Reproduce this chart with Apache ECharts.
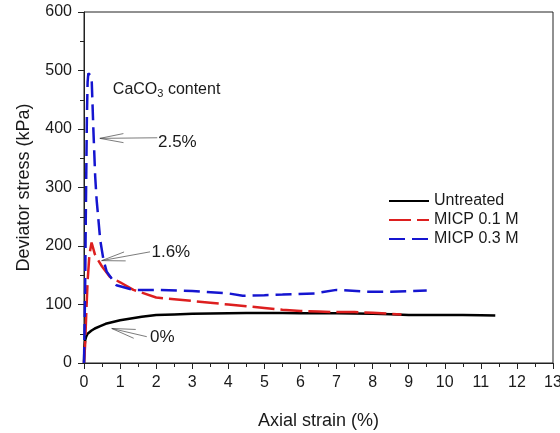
<!DOCTYPE html>
<html>
<head>
<meta charset="utf-8">
<script src="https://cdn.jsdelivr.net/npm/echarts@6/dist/echarts.min.js"></script>
<style>
  html, body { margin: 0; padding: 0; background: #fff; }
  #chart { width: 560px; height: 433px; }
</style>
</head>
<body>
<div id="chart"></div>
<script>
// axial strain (%) and deviator stress (kPa)
const untreatedStrain = [0, 0.01, 0.03, 0.06, 0.1, 0.2, 0.3, 0.45, 0.6, 0.8, 1, 1.3, 1.6, 2, 2.5, 3, 3.5, 4, 4.5, 5, 5.5, 6, 6.5, 7, 7.5, 8, 8.5, 9, 9.5, 10, 10.5, 11, 11.4];
const untreatedStress = [0, 25, 38, 45, 50, 55, 59, 63, 67, 70, 73, 76, 79, 82, 83, 84, 84.5, 85, 85.5, 85.5, 85.5, 85, 85, 85, 84.5, 84, 83.5, 82, 82, 82, 82, 81.5, 81];

const micp01Strain = [0, 0.03, 0.06, 0.1, 0.15, 0.21, 0.3, 0.39, 0.5, 0.72, 1, 1.37, 2, 2.5, 3, 3.5, 4, 4.5, 5, 5.5, 6, 6.5, 7, 7.5, 8, 8.5, 8.8];
const micp01Stress = [0, 30, 80, 140, 185, 206, 186, 176, 165, 147, 138, 125, 112, 109, 106, 103, 100, 97, 94, 91, 89, 88, 87, 87, 86, 84, 83];

const micp03Strain = [0, 0.03, 0.05, 0.08, 0.1, 0.12, 0.21, 0.26, 0.31, 0.35, 0.45, 0.54, 0.63, 0.9, 1.37, 2, 3, 4, 4.4, 5, 5.5, 6.4, 7, 7.8, 8.5, 9.5];
const micp03Stress = [0, 120, 250, 420, 480, 495, 490, 399, 319, 279, 210, 176, 156, 133, 125, 125, 123, 119, 115, 116, 117, 119, 125, 122, 122, 124];

// annotation arrows: tip (x, y) and tail (x, y) in data units, with label
const arrowTip  = [[0.44, 384], [0.49, 175], [0.77, 59]];
const arrowTail = [[2.03, 385], [1.83, 190], [1.74, 45]];
const arrowText = ['2.5%', '1.6%', '0%'];
const arrowTextPos = [[2.05, 378], [1.87, 190], [1.83, 44]];
const noteText = 'CaCO{sub|3} content';
const notePos = [0.8, 467];

const xTicks = [0, 13, 1];
const yTicks = [0, 600, 100];

function zip(a, b) { return a.map((v, i) => [v, b[i]]); }

const FONT = '"Liberation Sans", Arial, sans-serif';
const TXT = '#1a1a1a';

const chart = echarts.init(document.getElementById('chart'));

const annotData = arrowTip.map((t, i) => [t[0], t[1], arrowTail[i][0], arrowTail[i][1], arrowTextPos[i][0], arrowTextPos[i][1]]);

const option = {
  animation: false,
  backgroundColor: '#fff',
  grid: {
    left: 84, right: 7, top: 12, bottom: 70,
    outerBoundsMode: 'none',
    show: true, borderColor: '#222', borderWidth: 1
  },
  legend: {
    orient: 'vertical',
    left: 383, top: 188,
    itemWidth: 40, itemHeight: 12, itemGap: 3,
    itemStyle: { opacity: 0, borderWidth: 0 },
    textStyle: { fontFamily: FONT, fontSize: 16, color: TXT },
    data: ['Untreated', 'MICP 0.1 M', 'MICP 0.3 M']
  },
  xAxis: {
    type: 'value',
    min: xTicks[0], max: xTicks[1], interval: xTicks[2],
    name: 'Axial strain (%)',
    nameLocation: 'middle', nameGap: 49,
    nameTextStyle: { fontFamily: FONT, fontSize: 18, color: TXT },
    axisLine: { show: true, lineStyle: { color: '#222', width: 1 } },
    axisTick: { show: true, inside: false, length: 6, lineStyle: { color: '#222' } },
    minorTick: { show: true, splitNumber: 2, length: 4, lineStyle: { color: '#222' } },
    axisLabel: { fontFamily: FONT, fontSize: 16, color: TXT, margin: 12 },
    splitLine: { show: false }
  },
  yAxis: {
    type: 'value',
    min: yTicks[0], max: yTicks[1], interval: yTicks[2],
    name: 'Deviator stress (kPa)',
    nameLocation: 'middle', nameGap: 51,
    nameTextStyle: { fontFamily: FONT, fontSize: 18, color: TXT },
    axisLine: { show: true, lineStyle: { color: '#222', width: 1 } },
    axisTick: { show: true, inside: false, length: 6, lineStyle: { color: '#222' } },
    minorTick: { show: true, splitNumber: 2, length: 4, lineStyle: { color: '#222' } },
    axisLabel: { fontFamily: FONT, fontSize: 16, color: TXT, margin: 12 },
    splitLine: { show: false }
  },
  series: [
    {
      name: 'Untreated', type: 'line', symbol: 'none', z: 3,
      data: zip(untreatedStrain, untreatedStress),
      itemStyle: { color: '#000' },
      lineStyle: { color: '#000', width: 2.5 }
    },
    {
      name: 'MICP 0.1 M', type: 'line', symbol: 'none', z: 4,
      data: zip(micp01Strain, micp01Stress),
      itemStyle: { color: '#dd1f1f' },
      lineStyle: { color: '#dd1f1f', width: 2.5, type: [22, 6] }
    },
    {
      name: 'MICP 0.3 M', type: 'line', symbol: 'none', z: 5,
      data: zip(micp03Strain, micp03Stress),
      itemStyle: { color: '#1515d0' },
      lineStyle: { color: '#1515d0', width: 2.5, type: [16, 7] }
    },
    {
      type: 'custom', silent: true, z: 6,
      data: annotData,
      renderItem: function (params, api) {
        const tip = api.coord([api.value(0), api.value(1)]);
        const tail = api.coord([api.value(2), api.value(3)]);
        const tp = api.coord([api.value(4), api.value(5)]);
        const ang = Math.atan2(tail[1] - tip[1], tail[0] - tip[0]);
        const L = 24, spread = 0.19;
        const h1 = [tip[0] + L * Math.cos(ang + spread), tip[1] + L * Math.sin(ang + spread)];
        const h2 = [tip[0] + L * Math.cos(ang - spread), tip[1] + L * Math.sin(ang - spread)];
        const ls = { stroke: '#444', lineWidth: 0.7, fill: null };
        return {
          type: 'group',
          children: [
            { type: 'line', shape: { x1: tip[0], y1: tip[1], x2: tail[0], y2: tail[1] }, style: ls },
            { type: 'line', shape: { x1: tip[0], y1: tip[1], x2: h1[0], y2: h1[1] }, style: ls },
            { type: 'line', shape: { x1: tip[0], y1: tip[1], x2: h2[0], y2: h2[1] }, style: ls },
            {
              type: 'text', x: tp[0], y: tp[1],
              style: {
                text: arrowText[params.dataIndex], fill: TXT,
                font: '17px ' + FONT, verticalAlign: 'middle', align: 'left'
              }
            }
          ]
        };
      }
    },
    {
      type: 'custom', silent: true, z: 6,
      data: [notePos],
      renderItem: function (params, api) {
        const p = api.coord([api.value(0), api.value(1)]);
        return {
          type: 'text', x: p[0], y: p[1],
          style: {
            text: noteText, fill: TXT,
            fontFamily: FONT, fontSize: 16,
            verticalAlign: 'middle', align: 'left',
            rich: {
              sub: { fontFamily: FONT, fontSize: 11, fill: TXT, padding: [9, 0, 0, 0] }
            }
          }
        };
      }
    }
  ]
};

chart.setOption(option);
</script>
</body>
</html>
